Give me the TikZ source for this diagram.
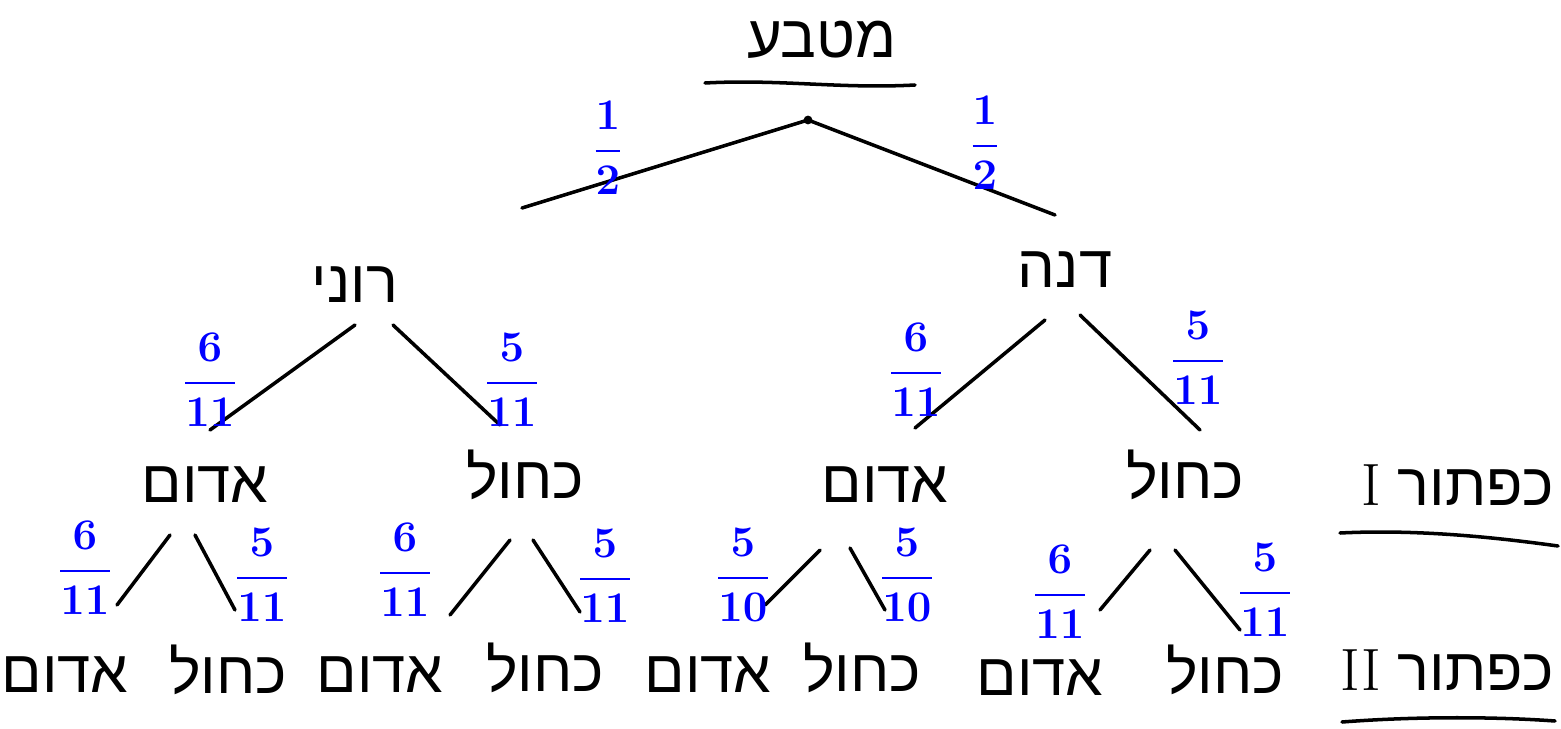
\documentclass[tikz,border=0pt]{standalone}
\usepackage{fontspec}
\usepackage{amsmath}
\newfontfamily\hebfont[Script=Hebrew]{Liberation Sans}
\TeXXeTstate=1
\newcommand{\rl}[1]{\beginR#1\endR}

\begin{document}
\begin{tikzpicture}[x=0.02cm, y=-0.02cm, line width=2pt, line cap=round,
    word/.style={font=\hebfont\fontsize{34}{40}\selectfont, inner sep=0pt},
    prob/.style={blue, font=\fontsize{25}{30}\selectfont\boldmath, inner sep=0pt}]
    \useasboundingbox (0,0) rectangle (1561,729);

    % 1. coin at the top
    \node[word] (coin) at (822,40) {\rl{מטבע}};
    \draw (705,83) .. controls (780,79) and (840,89) .. (915,85);
    \coordinate (root) at (808,120);
    \fill (root) circle (2.5pt);

    % 2. first split
    \node[word] (roni) at (355,285) {\rl{רוני}};
    \node[word] (dana) at (1065,270) {\rl{דנה}};
    \draw (root) -- ([shift={(167,-77)}]roni.center);
    \draw (root) -- ([shift={(-10,-55)}]dana.center);
    \node[prob] (pRoni) at (608,148) {$\dfrac{1}{2}$};
    \node[prob] (pDana) at (985,143) {$\dfrac{1}{2}$};

    % 3. button I
    \node[word] (redA) at (205,485) {\rl{אדום}};
    \node[word] (blueA) at (525,475) {\rl{כחול}};
    \node[word] (redB) at (885,485) {\rl{אדום}};
    \node[word] (blueB) at (1185,475) {\rl{כחול}};
    \draw ([shift={(0,40)}]roni.center) -- ([shift={(5,-55)}]redA.center);
    \draw ([shift={(38,40)}]roni.center) -- ([shift={(-25,-50)}]blueA.center);
    \draw ([shift={(-20,50)}]dana.center) -- ([shift={(30,-57)}]redB.center);
    \draw ([shift={(15,45)}]dana.center) -- ([shift={(15,-45)}]blueB.center);
    \node[prob] (pRedA) at (210,380) {$\dfrac{6}{11}$};
    \node[prob] (pBlueA) at (512,380) {$\dfrac{5}{11}$};
    \node[prob] (pRedB) at (916,370) {$\dfrac{6}{11}$};
    \node[prob] (pBlueB) at (1198,358) {$\dfrac{5}{11}$};

    % 4. button II
    \node[word] (r1) at (65,675) {\rl{אדום}};
    \node[word] (b1) at (228,670) {\rl{כחול}};
    \node[word] (r2) at (380,675) {\rl{אדום}};
    \node[word] (b2) at (545,668) {\rl{כחול}};
    \node[word] (r3) at (708,675) {\rl{אדום}};
    \node[word] (b3) at (862,668) {\rl{כחול}};
    \node[word] (r4) at (1040,678) {\rl{אדום}};
    \node[word] (b4) at (1225,670) {\rl{כחול}};
    \draw ([shift={(-35,50)}]redA.center) -- ([shift={(52,-70)}]r1.center);
    \draw ([shift={(-10,50)}]redA.center) -- ([shift={(7,-60)}]b1.center);
    \draw ([shift={(-15,65)}]blueA.center) -- ([shift={(70,-60)}]r2.center);
    \draw ([shift={(8,65)}]blueA.center) -- ([shift={(35,-56)}]b2.center);
    \draw ([shift={(-65,65)}]redB.center) -- ([shift={(57,-70)}]r3.center);
    \draw ([shift={(-35,63)}]redB.center) -- ([shift={(23,-58)}]b3.center);
    \draw ([shift={(-35,75)}]blueB.center) -- ([shift={(60,-68)}]r4.center);
    \draw ([shift={(-10,75)}]blueB.center) -- ([shift={(15,-40)}]b4.center);
    \node[prob] (pR1) at (85,568) {$\dfrac{6}{11}$};
    \node[prob] (pB1) at (262,575) {$\dfrac{5}{11}$};
    \node[prob] (pR2) at (405,570) {$\dfrac{6}{11}$};
    \node[prob] (pB2) at (605,576) {$\dfrac{5}{11}$};
    \node[prob] (pR3) at (743,575) {$\dfrac{5}{10}$};
    \node[prob] (pB3) at (907,575) {$\dfrac{5}{10}$};
    \node[prob] (pR4) at (1060,592) {$\dfrac{6}{11}$};
    \node[prob] (pB4) at (1265,590) {$\dfrac{5}{11}$};

    % 5. row names on the right
    \node[word, anchor=east] (btnOne) at (1556,485) {\rl{כפתור \beginL{\rmfamily I}\endL}};
    \draw (1340,533) .. controls (1420,529) and (1500,538) .. (1558,546);
    \node[word, anchor=east] (btnTwo) at (1556,670) {\rl{כפתור \beginL{\rmfamily II}\endL}};
    \draw (1342,722) .. controls (1420,716) and (1500,717) .. (1555,721);
\end{tikzpicture}
\end{document}
